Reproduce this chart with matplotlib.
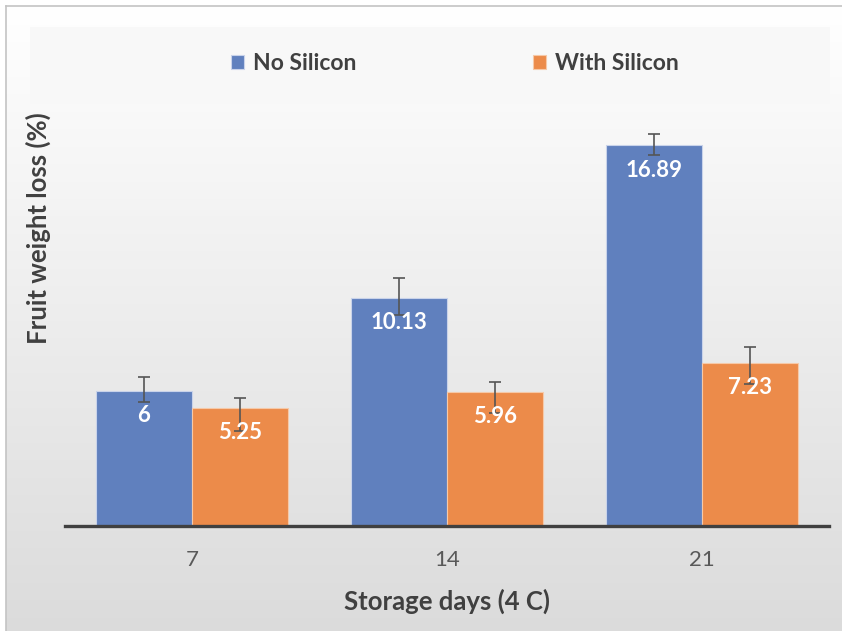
import numpy as np
import matplotlib
matplotlib.use("Agg")
import matplotlib.pyplot as plt
from matplotlib.patches import Rectangle

plt.rcParams['font.family'] = ['Lato', 'DejaVu Sans']

# Data
days = ["7", "14", "21"]
series_names = ["No Silicon", "With Silicon"]
no_silicon = [6, 10.13, 16.89]
with_silicon = [5.25, 5.96, 7.23]
no_silicon_err_up = [0.59, 0.87, 0.50]
no_silicon_err_down = [0.51, 0.77, 0.44]
with_silicon_err_up = [0.42, 0.41, 0.72]
with_silicon_err_down = [1.04, 0.97, 0.95]

blue = "#6080be"
orange = "#ec8b4a"
W, H = 842, 631

fig = plt.figure(figsize=(W / 100, H / 100), dpi=100, facecolor="white")

# Chart frame with vertical gradient fill
bg = fig.add_axes([6 / W, 0, 1 - 6 / W, 1 - 6 / H], zorder=0)
grad = np.linspace(1.0, 0.86, 256)[:, None]
bg.imshow(np.dstack([grad, grad, grad]), aspect="auto", extent=[0, 1, 0, 1],
          origin="upper")
bg.set_xlim(0, 1)
bg.set_ylim(0, 1)
bg.set_xticks([])
bg.set_yticks([])
for side in ["right", "bottom"]:
    bg.spines[side].set_visible(False)
for side in ["left", "top"]:
    bg.spines[side].set_color("#c4c4c4")
    bg.spines[side].set_linewidth(1.2)

# Legend band
band = Rectangle((30 / W, 1 - 104 / H), (830 - 30) / W, (104 - 27) / H,
                 transform=fig.transFigure, facecolor="#f8f8f8", edgecolor="none",
                 zorder=1, alpha=0.85)
fig.patches.append(band)

ax = fig.add_axes([64.5 / W, 1 - 526 / H, 765 / W, (526 - 120) / H], zorder=2)
ax.patch.set_visible(False)

x = np.arange(len(days))
bw = 0.376
b1 = ax.bar(x - bw / 2, no_silicon, bw, color=blue, edgecolor="#c9d3ea",
            linewidth=0.8, label=series_names[0], zorder=2)
b2 = ax.bar(x + bw / 2, with_silicon, bw, color=orange, edgecolor="#f6c9a8",
            linewidth=0.8, label=series_names[1], zorder=2)

ax.errorbar(x - bw / 2, no_silicon, yerr=[no_silicon_err_down, no_silicon_err_up],
            fmt="none", ecolor="#555555", elinewidth=1.2, capsize=4.5,
            capthick=1.2, zorder=4)
ax.errorbar(x + bw / 2, with_silicon, yerr=[with_silicon_err_down, with_silicon_err_up],
            fmt="none", ecolor="#555555", elinewidth=1.2, capsize=4.5,
            capthick=1.2, zorder=4)

for bars, vals in [(b1, no_silicon), (b2, with_silicon)]:
    for rect, v in zip(bars, vals):
        ax.annotate(f"{v:g}", (rect.get_x() + rect.get_width() / 2, v),
                    xytext=(0, -18), textcoords="offset points",
                    ha="center", va="center", color="white",
                    fontsize=16, fontweight="bold", zorder=5)

ax.set_xlim(-0.5, 2.5)
ax.set_ylim(0, 18)
ax.set_xticks(x)
ax.set_xticklabels(days, fontsize=16, color="#595959")
ax.tick_params(axis="x", length=0, pad=17)
ax.set_yticks([])
for side in ["left", "right", "top"]:
    ax.spines[side].set_visible(False)
ax.spines["bottom"].set_color("#404040")
ax.spines["bottom"].set_linewidth(2.4)
ax.spines["bottom"].set_bounds(-0.5 + 2.5 / 765, 2.5 - 1.5 / 765)

ax.set_xlabel("Storage days (4 C)", fontsize=18.5, fontweight="bold",
              color="#404040", labelpad=13.5)
fig.text(38 / W, 1 - 228 / H, "Fruit weight loss (%)", rotation=90,
         ha="center", va="center", fontsize=18.5, fontweight="bold",
         color="#404040")

leg = fig.legend(handles=[b1, b2], labels=series_names, loc="center",
                 bbox_to_anchor=(455 / W, 1 - 64 / H), ncol=2, frameon=False,
                 fontsize=16.5, handlelength=0.55, handleheight=0.55,
                 handletextpad=0.4, columnspacing=7.7)
for t in leg.get_texts():
    t.set_color("#404040")
    t.set_fontweight("bold")

fig.savefig("out.png", dpi=100, facecolor="white")
